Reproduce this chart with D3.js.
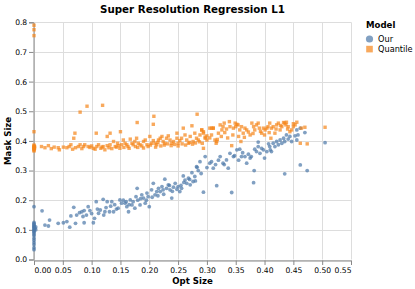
<!doctype html>
<html>
<head>
    <style>
        body { margin: 0; background: #fff; }
        svg { font-family: "DejaVu Sans", sans-serif; }
    </style>
    <script src="https://d3js.org/d3.v7.min.js"></script>
</head>
<body>
<svg width="415" height="289"></svg>
<script>

    var models = ["Our", "Quantile"];
    var colors = ["#4c78a8", "#f58518"];
    var xTicks = [0, 0.05, 0.1, 0.15, 0.2, 0.25, 0.3, 0.35, 0.4, 0.45, 0.5, 0.55];
    var yTicks = [0, 0.1, 0.2, 0.3, 0.4, 0.5, 0.6, 0.7, 0.8];

    // [opt size, mask size]
    var ourPoints = [
        [0,0.178],[0,0.125],[0,0.121],[0,0.118],[0,0.115],[0,0.112],[0,0.109],[0,0.106],[0,0.103],[0,0.1],
        [0,0.097],[0,0.094],[0,0.09],[0,0.085],[0,0.08],[0,0.072],[0,0.065],[0,0.057],[0,0.05],[0,0.04],
        [0,0.033],[0.002,0.105],[0.003,0.11],[0.003,0.1],
        [0.014,0.164],[0.019,0.116],[0.025,0.113],[0.027,0.133],[0.042,0.122],[0.051,0.124],[0.057,0.128],
        [0.062,0.109],[0.064,0.147],[0.069,0.176],[0.072,0.122],[0.074,0.15],[0.079,0.158],[0.083,0.161],
        [0.087,0.124],[0.087,0.165],[0.091,0.15],[0.094,0.178],[0.097,0.165],[0.103,0.124],[0.105,0.139],
        [0.108,0.195],[0.112,0.156],[0.115,0.167],[0.12,0.203],[0.121,0.15],[0.123,0.161],[0.127,0.195],
        [0.131,0.161],[0.135,0.195],[0.138,0.161],[0.146,0.173],[0.149,0.201],[0.152,0.19],[0.158,0.19],
        [0.161,0.178],[0.164,0.161],[0.167,0.201],[0.17,0.184],[0.172,0.195],[0.175,0.173],[0.177,0.212],
        [0.179,0.24],[0.184,0.184],[0.187,0.218],[0.19,0.207],[0.193,0.19],[0.196,0.224],[0.198,0.212],
        [0.2,0.178],[0.204,0.235],[0.207,0.257],[0.21,0.218],[0.213,0.229],[0.216,0.24],[0.219,0.229],
        [0.222,0.246],[0.224,0.235],[0.227,0.271],[0.23,0.24],[0.233,0.252],[0.236,0.235],[0.239,0.207],
        [0.242,0.244],[0.245,0.257],[0.248,0.237],[0.25,0.246],[0.253,0.229],[0.256,0.24],[0.259,0.282],
        [0.262,0.268],[0.265,0.257],[0.268,0.274],[0.271,0.252],[0.274,0.293],[0.276,0.263],[0.279,0.28],
        [0.283,0.311],
        [0.085,0.145],[0.1,0.155],[0.11,0.17],[0.125,0.175],[0.133,0.18],[0.14,0.185],[0.143,0.17],
        [0.155,0.2],[0.16,0.195],[0.165,0.185],[0.18,0.2],[0.185,0.205],[0.195,0.2],[0.205,0.21],
        [0.215,0.215],[0.225,0.22],[0.235,0.25],[0.24,0.23],[0.255,0.25],[0.26,0.26],[0.27,0.27],[0.28,0.265],
        [0.282,0.313],[0.288,0.33],[0.294,0.227],[0.297,0.347],[0.305,0.325],[0.311,0.308],[0.317,0.249],
        [0.323,0.347],[0.328,0.325],[0.334,0.336],[0.337,0.308],[0.34,0.358],[0.343,0.226],[0.346,0.347],
        [0.352,0.37],[0.357,0.372],[0.36,0.347],[0.366,0.347],[0.369,0.325],[0.375,0.342],[0.377,0.347],
        [0.381,0.259],[0.382,0.3],[0.383,0.372],[0.386,0.364],[0.389,0.396],[0.389,0.381],[0.392,0.358],
        [0.4,0.342],[0.404,0.364],[0.409,0.381],[0.412,0.364],[0.415,0.392],[0.418,0.381],[0.421,0.398],
        [0.424,0.387],[0.427,0.403],[0.43,0.392],[0.433,0.409],[0.435,0.398],[0.435,0.289],[0.438,0.42],
        [0.441,0.406],[0.444,0.415],[0.447,0.398],[0.453,0.417],[0.456,0.437],[0.456,0.403],[0.458,0.42],
        [0.462,0.443],[0.462,0.319],[0.47,0.428],[0.474,0.3],[0.505,0.394],
        [0.285,0.3],[0.29,0.29],[0.3,0.31],[0.308,0.33],[0.315,0.32],[0.32,0.335],[0.33,0.32],[0.348,0.35],
        [0.355,0.335],[0.362,0.36],[0.372,0.355],[0.395,0.375],[0.398,0.37],[0.407,0.39],[0.41,0.37]
    ];

    var quantilePoints = [
        [0,0.79],[0,0.775],[0,0.755],[0,0.431],[0,0.386],[0,0.383],[0,0.38],[0,0.378],[0,0.375],[0,0.372],
        [0,0.369],[0,0.366],[0.001,0.381],[0.001,0.376],
        [0.013,0.381],[0.019,0.377],[0.025,0.384],[0.042,0.377],[0.044,0.37],[0.051,0.379],[0.057,0.377],
        [0.061,0.381],[0.064,0.387],[0.072,0.377],[0.077,0.381],[0.08,0.387],[0.086,0.381],[0.088,0.387],
        [0.094,0.381],[0.1,0.383],[0.103,0.375],[0.109,0.381],[0.112,0.387],[0.116,0.375],[0.12,0.381],
        [0.123,0.37],[0.127,0.384],[0.132,0.387],[0.138,0.398],[0.141,0.381],[0.145,0.392],[0.149,0.375],
        [0.152,0.387],[0.155,0.403],[0.158,0.392],[0.161,0.387],[0.167,0.406],[0.17,0.392],[0.172,0.387],
        [0.175,0.398],[0.178,0.409],[0.181,0.392],[0.184,0.387],[0.19,0.398],[0.193,0.403],[0.196,0.387],
        [0.201,0.415],[0.204,0.392],[0.207,0.401],[0.21,0.392],[0.213,0.387],[0.216,0.403],[0.219,0.409],
        [0.222,0.415],[0.224,0.398],[0.227,0.392],[0.23,0.409],[0.233,0.417],[0.236,0.403],[0.239,0.392],
        [0.242,0.398],[0.248,0.426],[0.248,0.409],[0.25,0.392],[0.253,0.401],[0.256,0.409],[0.259,0.443],
        [0.262,0.42],[0.265,0.403],[0.268,0.392],[0.271,0.415],[0.274,0.451],[0.276,0.398],[0.279,0.426],
        [0.282,0.409],[0.285,0.403],[0.288,0.42],[0.291,0.437],[0.294,0.431],[0.294,0.375],[0.297,0.409],
        [0.3,0.403],[0.305,0.443],[0.308,0.42],[0.311,0.443],[0.314,0.403],[0.317,0.398],
        [0.03,0.374],[0.035,0.379],[0.067,0.372],[0.083,0.374],[0.097,0.378],[0.106,0.372],[0.118,0.379],
        [0.13,0.377],[0.135,0.374],[0.143,0.379],[0.147,0.384],[0.156,0.378],[0.163,0.381],[0.165,0.375],
        [0.176,0.381],[0.18,0.378],[0.187,0.383],[0.19,0.376],[0.198,0.381],[0.202,0.386],[0.211,0.379],
        [0.215,0.395],[0.22,0.383],[0.226,0.386],[0.232,0.39],[0.238,0.384],[0.244,0.388],[0.25,0.383],
        [0.257,0.39],[0.263,0.386],[0.27,0.395],[0.275,0.389],[0.28,0.393],[0.287,0.397],[0.292,0.392],
        [0.08,0.497],[0.092,0.517],[0.119,0.52],[0.071,0.426],[0.069,0.409],[0.108,0.426],[0.132,0.426],
        [0.15,0.431],[0.127,0.415],[0.179,0.462],[0.207,0.456],[0.208,0.483],[0.283,0.49],
        [0.291,0.437],[0.294,0.426],[0.297,0.413],[0.3,0.417],[0.308,0.443],[0.311,0.443],[0.316,0.392],
        [0.32,0.426],[0.323,0.454],[0.326,0.437],[0.328,0.448],[0.33,0.46],[0.331,0.428],[0.334,0.44],
        [0.339,0.465],[0.34,0.448],[0.343,0.384],[0.346,0.443],[0.349,0.46],[0.35,0.448],[0.352,0.456],
        [0.354,0.454],[0.357,0.437],[0.359,0.398],[0.36,0.448],[0.363,0.426],[0.366,0.443],[0.369,0.437],
        [0.375,0.42],[0.378,0.46],[0.381,0.448],[0.383,0.437],[0.386,0.454],[0.389,0.46],[0.391,0.443],
        [0.395,0.426],[0.398,0.443],[0.401,0.437],[0.404,0.443],[0.406,0.448],[0.409,0.46],[0.411,0.409],
        [0.412,0.443],[0.415,0.448],[0.418,0.426],[0.421,0.454],[0.424,0.46],[0.427,0.437],[0.43,0.448],
        [0.433,0.462],[0.435,0.46],[0.437,0.454],[0.438,0.463],[0.441,0.448],[0.444,0.431],[0.447,0.437],
        [0.45,0.448],[0.453,0.454],[0.456,0.463],[0.462,0.392],[0.464,0.443],[0.47,0.446],[0.474,0.39],
        [0.505,0.446],
        [0.305,0.41],[0.318,0.405],[0.325,0.415],[0.336,0.41],[0.345,0.42],[0.355,0.415],[0.365,0.412],
        [0.372,0.43],[0.38,0.425],[0.393,0.432],[0.4,0.42],[0.408,0.428],[0.42,0.44],[0.428,0.452],
        [0.44,0.44],[0.45,0.458]
    ];

    var svg = d3.select("svg");
    var plotLeft = 34, plotRight = 351, plotTop = 22.3, plotBottom = 259.5;
    var labelFont = "7.6px", titleFont = "8.6px";

    var x = d3.scaleLinear().domain([0, 0.55]).range([plotLeft, plotRight]);
    var y = d3.scaleLinear().domain([0, 0.8]).range([plotBottom, plotTop]);

    // grid
    var grid = svg.append("g").attr("stroke", "#ddd").attr("stroke-width", 1);
    grid.selectAll(".gx").data(xTicks).enter().append("line")
        .attr("x1", function(d) { return Math.round(x(d)) + 0.5; })
        .attr("x2", function(d) { return Math.round(x(d)) + 0.5; })
        .attr("y1", plotTop).attr("y2", plotBottom);
    grid.selectAll(".gy").data(yTicks).enter().append("line")
        .attr("y1", function(d) { return Math.round(y(d)) + 0.5; })
        .attr("y2", function(d) { return Math.round(y(d)) + 0.5; })
        .attr("x1", plotLeft).attr("x2", plotRight);

    // x axis
    var xAxis = svg.append("g")
        .attr("transform", "translate(0," + (Math.round(plotBottom) + 0.5) + ")")
        .call(d3.axisBottom(x).tickValues(xTicks).tickFormat(d3.format(".2f")).tickSizeOuter(0).tickSize(4.5).tickPadding(2.5));
    xAxis.select(".domain").attr("stroke", "#888");
    xAxis.selectAll(".tick line").attr("stroke", "#888");
    xAxis.selectAll("text").attr("font-size", labelFont).attr("font-family", "DejaVu Sans, sans-serif").attr("fill", "#000");
    xAxis.selectAll(".tick text").filter(function(d) { return d === 0; }).attr("text-anchor", "start");
    xAxis.selectAll(".tick text").filter(function(d) { return d === 0.55; }).attr("text-anchor", "end");

    // y axis
    var yAxis = svg.append("g")
        .attr("transform", "translate(" + (Math.round(plotLeft) - 0.5) + ",0)")
        .call(d3.axisLeft(y).tickValues(yTicks).tickFormat(d3.format(".1f")).tickSizeOuter(0).tickSize(4.5).tickPadding(1.8));
    yAxis.select(".domain").attr("stroke", "#888");
    yAxis.selectAll(".tick line").attr("stroke", "#888");
    yAxis.selectAll("text").attr("font-size", labelFont).attr("font-family", "DejaVu Sans, sans-serif").attr("fill", "#000");

    // points
    svg.append("g").selectAll("circle")
        .data(ourPoints)
        .enter().append("circle")
        .attr("cx", function(d) { return x(d[0]); })
        .attr("cy", function(d) { return y(d[1]); })
        .attr("r", 1.9)
        .attr("fill", colors[0])
        .attr("fill-opacity", 0.7);

    svg.append("g").selectAll("rect")
        .data(quantilePoints)
        .enter().append("rect")
        .attr("x", function(d) { return x(d[0]) - 1.7; })
        .attr("y", function(d) { return y(d[1]) - 1.7; })
        .attr("width", 3.4)
        .attr("height", 3.4)
        .attr("fill", colors[1])
        .attr("fill-opacity", 0.7);

    // titles
    svg.append("text")
        .attr("x", (plotLeft + plotRight) / 2).attr("y", 13)
        .attr("text-anchor", "middle")
        .attr("font-size", "10.3px").attr("font-weight", "bold")
        .text("Super Resolution Regression L1");

    svg.append("text")
        .attr("x", (plotLeft + plotRight) / 2).attr("y", 284)
        .attr("text-anchor", "middle")
        .attr("font-size", titleFont).attr("font-weight", "bold")
        .text("Opt Size");

    svg.append("text")
        .attr("transform", "translate(10.5," + ((plotTop + plotBottom) / 2) + ") rotate(-90)")
        .attr("text-anchor", "middle")
        .attr("font-size", titleFont).attr("font-weight", "bold")
        .text("Mask Size");

    // legend
    var legend = svg.append("g").attr("transform", "translate(366,0)");
    legend.append("text")
        .attr("x", 0).attr("y", 28)
        .attr("font-size", titleFont).attr("font-weight", "bold")
        .text("Model");
    legend.append("circle")
        .attr("cx", 3.5).attr("cy", 39).attr("r", 3.6)
        .attr("fill", colors[0]).attr("fill-opacity", 0.7);
    legend.append("rect")
        .attr("x", 0.2).attr("y", 45.8).attr("width", 6.6).attr("height", 6.6)
        .attr("fill", colors[1]).attr("fill-opacity", 0.7);
    legend.selectAll(".lab").data(models).enter().append("text")
        .attr("x", 12)
        .attr("y", function(d, i) { return 42 + i * 10.3; })
        .attr("font-size", "8.2px")
        .text(function(d) { return d; });

</script>
</body>
</html>
